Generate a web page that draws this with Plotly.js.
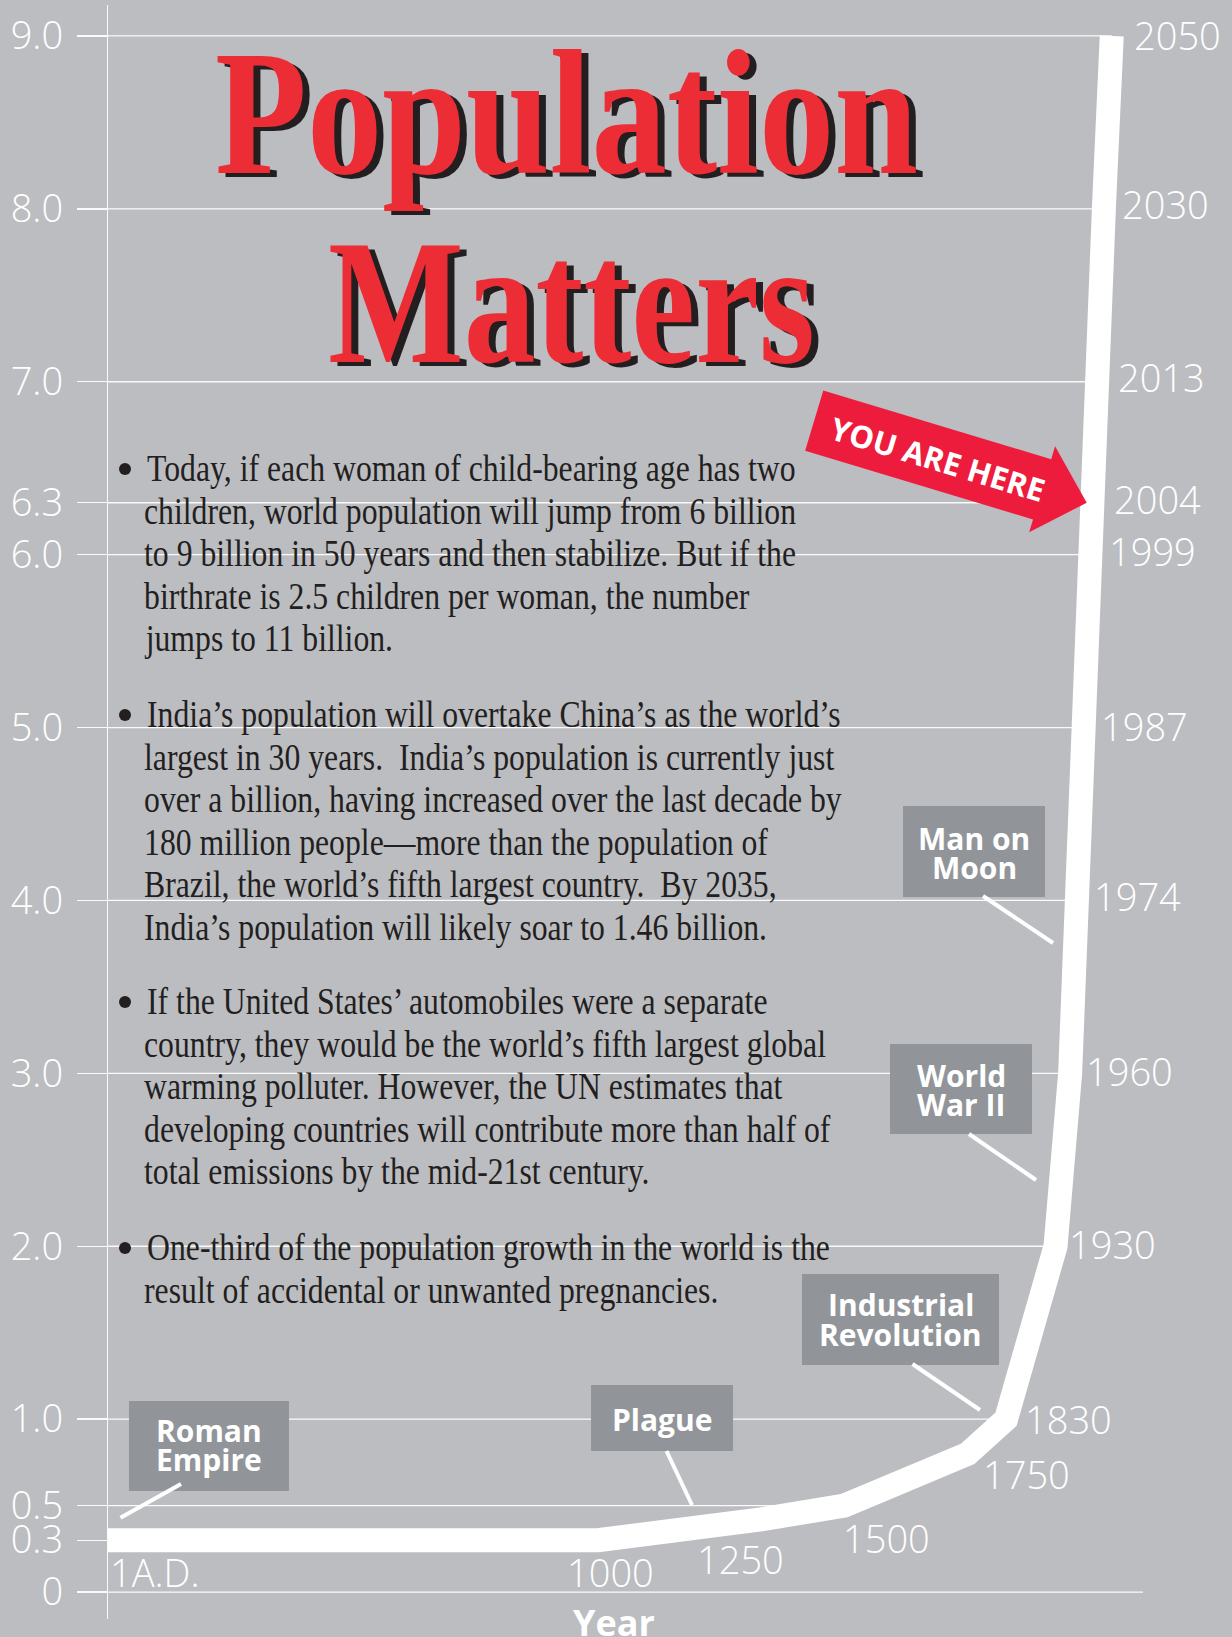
<!DOCTYPE html>
<html>
<head>
<meta charset="utf-8">
<script src="https://cdn.plot.ly/plotly-3.0.1.min.js"></script>
<style>
html,body{margin:0;padding:0;background:#bcbdc1;overflow:hidden}
#chart{width:1232px;height:1637px}
</style>
</head>
<body>
<div id="chart"></div>
<script>
// ---------------- data ----------------
const yearLabels = ['1A.D.','1000','1250','1500','1750','1830','1930','1960','1974','1987','1999','2004','2013','2030','2050'];
// world population, billions
const population = [0.3, 0.3, 0.42, 0.5, 0.8, 1.0, 2.0, 3.0, 4.0, 5.0, 6.0, 6.3, 7.0, 8.0, 9.0];
// position of each year along the chart's stretched (non-linear) time axis, 0-100
const timeline = [0, 43.6, 58.1, 65.5, 76.5, 79.9, 84.3, 85.6, 86.2, 86.7, 87.2, 87.5, 87.9, 88.6, 89.3];

const yTickVals = [0, 0.3, 0.5, 1, 2, 3, 4, 5, 6, 6.3, 7, 8, 9];
const yTickText = ['0', '0.3', '0.5', '1.0', '2.0', '3.0', '4.0', '5.0', '6.0', '6.3', '7.0', '8.0', '9.0'];

const eventLabels = [['Roman', 'Empire'], ['Plague'], ['Industrial', 'Revolution'], ['World', 'War II'], ['Man on', 'Moon']];

const titleLines = ['Population', 'Matters'];
const pointerText = 'YOU ARE HERE';
const xAxisLabel = 'Year';

const facts = [
  ['Today, if each woman of child-bearing age has two',
   'children, world population will jump from 6 billion',
   'to 9 billion in 50 years and then stabilize. But if the',
   'birthrate is 2.5 children per woman, the number',
   'jumps to 11 billion.'],
  ['India’s population will overtake China’s as the world’s',
   'largest in 30 years.  India’s population is currently just',
   'over a billion, having increased over the last decade by',
   '180 million people—more than the population of',
   'Brazil, the world’s fifth largest country.  By 2035,',
   'India’s population will likely soar to 1.46 billion.'],
  ['If the United States’ automobiles were a separate',
   'country, they would be the world’s fifth largest global',
   'warming polluter. However, the UN estimates that',
   'developing countries will contribute more than half of',
   'total emissions by the mid-21st century.'],
  ['One-third of the population growth in the world is the',
   'result of accidental or unwanted pregnancies.']
];

// ---------------- layout / style ----------------
const W = 1232, H = 1637;
const M = {l: 108, r: 0, t: 5, b: 18};
const PW = W - M.l - M.r, PH = H - M.t - M.b;
const px = x => (x - M.l) / PW;          // page pixel -> paper x
const py = y => (H - M.b - y) / PH;      // page pixel -> paper y

const BG = '#bcbdc1', BOX = '#919599', INK = '#231f20', RED = '#ed2d35', ARROW_RED = '#ee1c3c';
const GRID = 'rgba(255,255,255,0.92)';
const SANS = 'Open Sans, Noto Sans, sans-serif';
const SERIF = 'Liberation Serif, Times New Roman, serif';

// label offsets (pixels) for year labels relative to their point
const yearLabelOffset = [[0,-32],[-33,-32],[-66,-40],[-3,-32],[13,-20],[17,0],[11,2],[14,2],[15,4],[16,2],[19,4],[20,4],[20,5],[16,5],[20,1]];

const shapes = [];
const ann = [];
const squeeze = {};
function addAnn(o, sq) { if (sq) squeeze[ann.length] = sq; ann.push(o); }

// gridlines that stop where they meet the population curve
function curveXAt(v) {
  for (let i = 0; i < population.length - 1; i++) {
    const a = population[i], b = population[i + 1];
    if (b > a && v >= a && v <= b) {
      return timeline[i] + (timeline[i + 1] - timeline[i]) * (v - a) / (b - a);
    }
  }
  return timeline[timeline.length - 1];
}
const baselineEnd = (1143 - M.l) / PW * 100;
yTickVals.forEach(v => {
  shapes.push({type: 'line', xref: 'x', yref: 'y', x0: 0, x1: v === 0 ? baselineEnd : curveXAt(v), y0: v, y1: v,
    line: {color: GRID, width: 1.3}, layer: 'below'});
});

// title with drop shadow
const TITLE_SIZE = 178;
const titleGeom = [{cx: 566.5, base: 173, w: 703}, {cx: 571.5, base: 362, w: 487}];
titleLines.forEach((t, i) => {
  const g = titleGeom[i];
  const cy = g.base - 0.3375 * TITLE_SIZE;
  [[INK, 7, -4], [RED, 0, 0]].forEach(([c, dx, dy]) => {
    addAnn({text: t, xref: 'paper', yref: 'paper', x: px(g.cx), y: py(cy), xanchor: 'center', yanchor: 'middle',
      xshift: dx, yshift: dy, showarrow: false,
      font: {family: SERIF, size: TITLE_SIZE, color: c, weight: 700}}, {origin: 'center', width: g.w});
  });
});

// fact paragraphs
const BODY_SIZE = 38, BODY_SCALE = 0.835, LINE_GAP = 42.5;
const paraBase = [481, 727, 1014, 1260];
facts.forEach((lines, p) => {
  lines.forEach((line, k) => {
    const base = paraBase[p] + k * LINE_GAP;
    addAnn({text: line, xref: 'paper', yref: 'paper', x: px(k === 0 ? 145 : 142), y: py(base - 0.3375 * BODY_SIZE),
      xanchor: 'left', yanchor: 'middle', showarrow: false,
      font: {family: SERIF, size: BODY_SIZE, color: INK}}, {origin: 'left', scale: BODY_SCALE});
  });
  const bx = 125, by = paraBase[p] - 12, r = 6;
  shapes.push({type: 'circle', xref: 'paper', yref: 'paper', x0: px(bx - r), x1: px(bx + r), y0: py(by + r), y1: py(by - r),
    fillcolor: INK, line: {width: 0}, layer: 'above'});
});

// event boxes
const eventBoxes = [
  {x0: 129, y0: 1401, x1: 289, y1: 1491, lines: [1431, 1460], ptr: [120.5, 1517.7, 181, 1484]},
  {x0: 591, y0: 1385, x1: 733, y1: 1451, lines: [1420], ptr: [666.5, 1451, 692, 1505]},
  {x0: 802, y0: 1274, x1: 999, y1: 1365, lines: [1305, 1335], ptr: [912.5, 1364, 980, 1410]},
  {x0: 890, y0: 1044, x1: 1032, y1: 1134, lines: [1076, 1105], ptr: [969, 1134, 1036, 1180]},
  {x0: 903, y0: 806, x1: 1045, y1: 897, lines: [839, 868], ptr: [983, 896, 1053, 943]}
];
eventBoxes.forEach((b, i) => {
  shapes.push({type: 'rect', xref: 'paper', yref: 'paper', x0: px(b.x0), x1: px(b.x1), y0: py(b.y1), y1: py(b.y0),
    fillcolor: BOX, line: {width: 0}, layer: 'above'});
  shapes.push({type: 'line', xref: 'paper', yref: 'paper', x0: px(b.ptr[0]), y0: py(b.ptr[1]), x1: px(b.ptr[2]), y1: py(b.ptr[3]),
    line: {color: 'white', width: 4}, layer: 'above'});
  eventLabels[i].forEach((t, k) => {
    addAnn({text: t, xref: 'paper', yref: 'paper', x: px((b.x0 + b.x1) / 2), y: py(b.lines[k] - 1),
      xanchor: 'center', yanchor: 'middle', showarrow: false,
      font: {family: SANS, size: 30, color: 'white', weight: 700}});
  });
});

// "YOU ARE HERE" arrow
(function () {
  const a = {mx: 814.2, my: 420.7, ang: 16.75, shaft: 31.5, headAt: 238, head: 45, tip: 284.6};
  const c = Math.cos(a.ang * Math.PI / 180), s = Math.sin(a.ang * Math.PI / 180);
  const P = (along, across) => [a.mx + along * c - across * s, a.my + along * s + across * c];
  const pts = [P(0, -a.shaft), P(a.headAt, -a.shaft), P(a.headAt, -a.head), P(a.tip, 0),
               P(a.headAt, a.head), P(a.headAt, a.shaft), P(0, a.shaft)];
  const path = 'M ' + pts.map(p => px(p[0]).toFixed(5) + ',' + py(p[1]).toFixed(5)).join(' L ') + ' Z';
  shapes.push({type: 'path', xref: 'paper', yref: 'paper', path: path, fillcolor: ARROW_RED, line: {width: 0}, layer: 'above'});
  const tc = P(130, 1);
  addAnn({text: pointerText, xref: 'paper', yref: 'paper', x: px(tc[0]), y: py(tc[1]), xanchor: 'center', yanchor: 'middle',
    textangle: a.ang, showarrow: false, font: {family: SANS, size: 31, color: 'white', weight: 700}});
})();

// year labels along the curve
yearLabels.forEach((t, i) => {
  addAnn({text: t, xref: 'x', yref: 'y', x: timeline[i], y: population[i], xanchor: 'left', yanchor: 'middle',
    xshift: yearLabelOffset[i][0], yshift: yearLabelOffset[i][1], showarrow: false,
    font: {family: SANS, size: 38, color: 'white', weight: 300}});
});

// x-axis word
addAnn({text: xAxisLabel, xref: 'paper', yref: 'paper', x: px(614), y: py(1622), xanchor: 'center', yanchor: 'middle',
  showarrow: false, font: {family: SANS, size: 36, color: 'white', weight: 700}});

const traces = [{
  type: 'scatter', mode: 'lines', x: timeline, y: population,
  line: {color: 'white', width: 24, shape: 'linear'}, hoverinfo: 'skip', showlegend: false
}];

const layout = {
  width: W, height: H, autosize: false,
  margin: M,
  paper_bgcolor: BG, plot_bgcolor: BG,
  showlegend: false,
  xaxis: {range: [0, 100], visible: false, fixedrange: true},
  yaxis: {
    range: [-0.156, 9.179], fixedrange: true,
    tickmode: 'array', tickvals: yTickVals, ticktext: yTickText,
    ticks: 'outside', ticklen: 30, tickwidth: 1.3, tickcolor: GRID,
    ticklabelstandoff: 6,
    tickfont: {family: SANS, size: 38, color: 'white', weight: 300},
    showline: true, linecolor: GRID, linewidth: 1.3,
    showgrid: false, zeroline: false
  },
  shapes: shapes,
  annotations: ann
};

const gd = document.getElementById('chart');
Plotly.newPlot(gd, traces, layout, {staticPlot: true, displayModeBar: false}).then(() => {
  gd.querySelectorAll('g.annotation').forEach(g => {
    const i = +g.getAttribute('data-index');
    const sq = squeeze[i];
    if (!sq) return;
    const t = g.querySelector('text.annotation-text');
    if (!t) return;
    const bb = t.getBBox();
    if (!bb.width) return;
    const s = sq.width ? sq.width / bb.width : sq.scale;
    const ox = sq.origin === 'left' ? bb.x : bb.x + bb.width / 2;
    t.setAttribute('transform', 'translate(' + ox + ' 0) scale(' + s + ' 1) translate(' + (-ox) + ' 0)');
  });
});
</script>
</body>
</html>
